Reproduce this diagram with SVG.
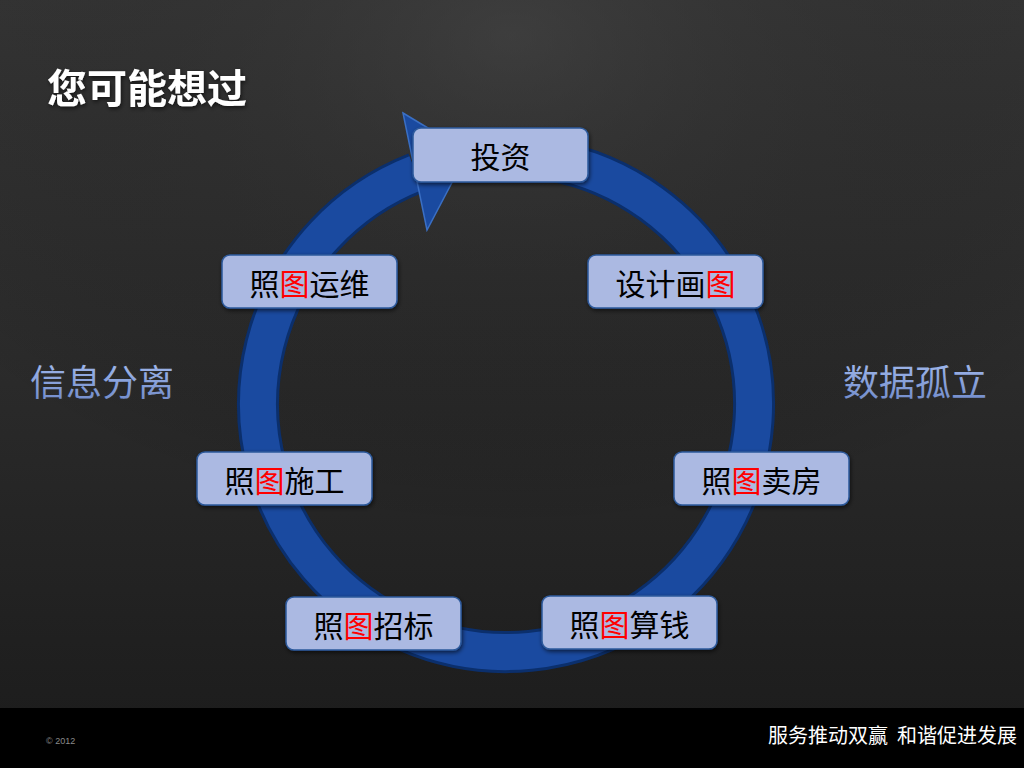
<svg xmlns="http://www.w3.org/2000/svg" width="1024" height="768" viewBox="0 0 1024 768">
<defs>
<linearGradient id="bg" x1="0" y1="0" x2="0" y2="1">
<stop offset="0" stop-color="#383838"/>
<stop offset="0.5" stop-color="#2a2a2a"/>
<stop offset="1" stop-color="#1b1b1b"/>
</linearGradient>
<radialGradient id="bgr" cx="0.5" cy="0.05" r="0.7">
<stop offset="0" stop-color="#444" stop-opacity="0.5"/>
<stop offset="1" stop-color="#000" stop-opacity="0"/>
</radialGradient>
<linearGradient id="side" x1="0" y1="0" x2="0" y2="1">
<stop offset="0" stop-color="#a9c0f2"/>
<stop offset="1" stop-color="#6d87c6"/>
</linearGradient>
<filter id="sh" x="-10%" y="-10%" width="130%" height="140%">
<feDropShadow dx="1" dy="2" stdDeviation="2" flood-color="#000" flood-opacity="0.6"/>
</filter>
<style>
.box{fill:#abb9e2;stroke:#2d5a9c;stroke-width:1.5;filter:url(#sh)}
.lbl{font-family:"Noto Sans CJK SC",sans-serif;font-size:30px;fill:#000;text-anchor:middle;dominant-baseline:central}
.r{fill:#ff0000}
.sidet{font-family:"Noto Sans CJK SC",sans-serif;font-size:36px;fill:url(#side);dominant-baseline:central}
</style>
</defs>
<rect width="1024" height="768" fill="url(#bg)"/>
<rect width="1024" height="708" fill="url(#bgr)"/>
<rect y="708" width="1024" height="60" fill="#000"/>

<text x="47" y="86" font-family="'Noto Sans CJK SC',sans-serif" font-size="40" font-weight="bold" fill="#fff" dominant-baseline="central" filter="url(#sh)">您可能想过</text>

<g id="connectors">
<path d="M 550 160 A 248 248 0 1 1 416 173" fill="none" stroke="#0b2f6c" stroke-width="42"/>
<path d="M 550 160 A 248 248 0 1 1 416 173" fill="none" stroke="#1a4aa0" stroke-width="36"/>
<polygon points="403,113 468,152 427,230" fill="#1a4aa0" stroke="#3a6fc4" stroke-width="1.5"/>
</g>

<g id="n1"><rect class="box" x="413" y="128" width="175" height="54" rx="8"/><text class="lbl" x="500.5" y="155">投资</text></g>
<g id="n2"><rect class="box" x="588" y="255" width="175" height="53" rx="8"/><text class="lbl" x="675.5" y="281.5">设计画<tspan class="r">图</tspan></text></g>
<g id="n3"><rect class="box" x="674" y="452" width="175" height="53" rx="8"/><text class="lbl" x="761.5" y="478.5">照<tspan class="r">图</tspan>卖房</text></g>
<g id="n4"><rect class="box" x="542" y="596" width="175" height="53" rx="8"/><text class="lbl" x="629.5" y="622.5">照<tspan class="r">图</tspan>算钱</text></g>
<g id="n5"><rect class="box" x="286" y="597" width="175" height="53" rx="8"/><text class="lbl" x="373.5" y="623.5">照<tspan class="r">图</tspan>招标</text></g>
<g id="n6"><rect class="box" x="197" y="452" width="175" height="53" rx="8"/><text class="lbl" x="284.5" y="478.5">照<tspan class="r">图</tspan>施工</text></g>
<g id="n7"><rect class="box" x="222" y="255" width="175" height="53" rx="8"/><text class="lbl" x="309.5" y="281.5">照<tspan class="r">图</tspan>运维</text></g>

<text class="sidet" x="30" y="380">信息分离</text>
<text class="sidet" x="843" y="380">数据孤立</text>

<text x="46" y="741" font-family="'Liberation Sans',sans-serif" font-size="9" fill="#8a8a8a" dominant-baseline="central">© 2012</text>
<text x="1017" y="734" font-family="'Noto Sans CJK SC',sans-serif" font-size="20" fill="#fff" text-anchor="end" dominant-baseline="central" xml:space="preserve">服务推动双赢  和谐促进发展</text>
</svg>
